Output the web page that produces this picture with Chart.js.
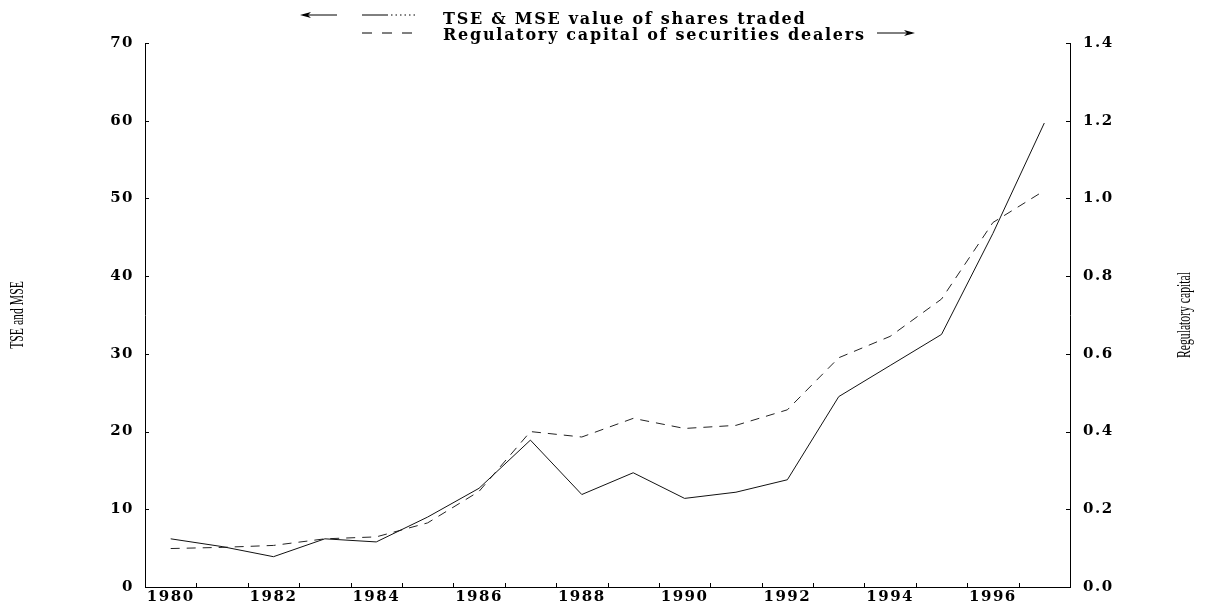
<!DOCTYPE html>
<html>
<head>
<meta charset="utf-8">
<title>TSE & MSE value of shares traded / Regulatory capital</title>
<script src="https://cdn.jsdelivr.net/npm/chart.js@4.4.0/dist/chart.umd.min.js"></script>
<style>
  body { margin: 0; background: #fff; }
  #wrap { position: relative; width: 1211px; height: 609px; }
  #legend { position: absolute; left: 0; top: 0; width: 1211px; height: 43px;
            font-family: "DejaVu Serif"; font-weight: bold; font-size: 16px;
            letter-spacing: 1.75px; color: #000; }
  #legend svg { position: absolute; left: 0; top: 0; }
  #legend .txt { position: absolute; left: 443px; white-space: nowrap; line-height: 16px; }
</style>
</head>
<body>
<div id="wrap">
  <canvas id="chart"></canvas>
  <div id="legend">
    <svg width="1211" height="43">
      <!-- arrow to the left axis -->
      <line x1="303" y1="15" x2="337" y2="15" stroke="#000" stroke-width="1"/>
      <path d="M300,15 L311,12 L308,15 L311,18 Z" fill="#000"/>
      <!-- solid series sample -->
      <line x1="362" y1="15" x2="388" y2="15" stroke="#000" stroke-width="1"/>
      <line x1="391" y1="15" x2="417" y2="15" stroke="#000" stroke-width="1" stroke-dasharray="1.5 3"/>
      <!-- dashed series sample -->
      <line x1="362" y1="33" x2="417" y2="33" stroke="#000" stroke-width="1" stroke-dasharray="10 10"/>
      <!-- arrow to the right axis -->
      <line x1="877" y1="33" x2="912" y2="33" stroke="#000" stroke-width="1"/>
      <path d="M915,33 L904,30 L907,33 L904,36 Z" fill="#000"/>
    </svg>
    <span class="txt" id="lab0" style="top:11px"></span>
    <span class="txt" id="lab1" style="top:27px"></span>
  </div>
</div>
<script>
const years = ['1980', '1981', '1982', '1983', '1984', '1985', '1986', '1987', '1988',
               '1989', '1990', '1991', '1992', '1993', '1994', '1995', '1996', '1997'];
const labelledYears = ['1980', '1982', '1984', '1986', '1988', '1990', '1992', '1994', '1996'];

// TSE & MSE value of shares traded (left axis)
const sharesTraded = [6.2, 5.2, 3.9, 6.2, 5.8, 9.0, 12.7, 18.9, 11.9,
                      14.7, 11.4, 12.2, 13.8, 24.5, 28.5, 32.5, 45.5, 59.7];
// regulatory capital of securities dealers (right axis)
const dealerCapital = [0.099, 0.102, 0.107, 0.124, 0.129, 0.165, 0.246, 0.400, 0.386,
                       0.434, 0.408, 0.416, 0.456, 0.590, 0.645, 0.741, 0.938, 1.020];

const leftTicks = [0, 10, 20, 30, 40, 50, 60, 70];
const rightTicks = [0, 0.2, 0.4, 0.6, 0.8, 1.0, 1.2, 1.4];

const seriesNames = ['TSE & MSE value of shares traded', 'Regulatory capital of securities dealers'];
const axisTitles = ['TSE and MSE', 'Regulatory capital'];

document.getElementById('lab0').textContent = seriesNames[0];
document.getElementById('lab1').textContent = seriesNames[1];

const tickFont = { family: 'DejaVu Serif', size: 15, weight: 'bold' };
const tickSpacing = '1.5px';

// wider spacing for the tick numbers
const spacedTicks = {
  id: 'spacedTicks',
  beforeUpdate(chart) { chart.ctx.letterSpacing = tickSpacing; },
  beforeDraw(chart) { chart.ctx.letterSpacing = tickSpacing; }
};

// short tick marks pointing into the plot
const innerTicks = {
  id: 'innerTicks',
  afterDraw(chart) {
    const ctx = chart.ctx;
    const { left, right, bottom } = chart.chartArea;
    const x = chart.scales.x, y = chart.scales.y, y1 = chart.scales.y1;
    ctx.save();
    ctx.strokeStyle = '#000';
    ctx.lineWidth = 1;
    ctx.beginPath();
    y.ticks.forEach(t => {
      const py = Math.round(y.getPixelForValue(t.value)) + 0.5;
      ctx.moveTo(left, py); ctx.lineTo(left + 4, py);
    });
    y1.ticks.forEach(t => {
      const py = Math.round(y1.getPixelForValue(t.value)) + 0.5;
      ctx.moveTo(right - 4, py); ctx.lineTo(right, py);
    });
    for (let i = 0; i < years.length - 1; i++) {
      const px = Math.round(x.getPixelForValue(i + 0.5)) + 0.5;
      ctx.moveTo(px, bottom); ctx.lineTo(px, bottom - 4);
    }
    ctx.stroke();
    ctx.restore();
  }
};

// narrow rotated axis titles at both sides
const sideTitles = {
  id: 'sideTitles',
  afterDraw(chart) {
    const ctx = chart.ctx;
    const midY = (chart.chartArea.top + chart.chartArea.bottom) / 2;
    ctx.save();
    ctx.letterSpacing = '0px';
    ctx.fillStyle = '#000';
    ctx.font = '18px "Liberation Serif"';
    ctx.textAlign = 'center';
    ctx.textBaseline = 'middle';
    [[18, axisTitles[0]], [1185, axisTitles[1]]].forEach(([cx, text]) => {
      ctx.save();
      ctx.translate(cx, midY);
      ctx.rotate(-Math.PI / 2);
      ctx.scale(0.65, 1);
      ctx.fillText(text, 0, 0);
      ctx.restore();
    });
    ctx.restore();
  }
};

new Chart(document.getElementById('chart'), {
  type: 'line',
  data: {
    labels: years,
    datasets: [{
      label: seriesNames[0],
      data: sharesTraded,
      yAxisID: 'y',
      borderColor: '#111',
      borderWidth: 1,
      pointRadius: 0,
      tension: 0,
      fill: false
    }, {
      label: seriesNames[1],
      data: dealerCapital,
      yAxisID: 'y1',
      borderColor: '#222',
      borderWidth: 1,
      borderDash: [9, 7],
      pointRadius: 0,
      tension: 0,
      fill: false
    }]
  },
  options: {
    responsive: true,
    maintainAspectRatio: false,
    animation: false,
    layout: { padding: { top: 43, left: 0, right: 0, bottom: 0 } },
    plugins: { legend: { display: false }, tooltip: { enabled: false } },
    scales: {
      x: {
        type: 'category',
        offset: true,
        grid: { display: false, drawTicks: false },
        border: { display: true, color: '#000', width: 1 },
        ticks: {
          autoSkip: false, maxRotation: 0, padding: 1,
          font: tickFont, color: '#000',
          callback: function (v) {
            const yr = this.getLabelForValue(v);
            return labelledYears.includes(yr) ? yr : '';
          }
        },
        afterFit: s => { s.height = 14; }
      },
      y: {
        position: 'left',
        min: 0, max: 70,
        grid: { display: false, drawTicks: false },
        border: { display: true, color: '#000', width: 1 },
        ticks: { padding: 11, font: tickFont, color: '#000' },
        afterBuildTicks: s => { s.ticks = leftTicks.map(v => ({ value: v })); },
        afterFit: s => { s.width = 145; }
      },
      y1: {
        position: 'right',
        min: 0, max: 1.4,
        grid: { display: false, drawTicks: false },
        border: { display: true, color: '#000', width: 1 },
        ticks: { padding: 13, font: tickFont, color: '#000', callback: v => v.toFixed(1) },
        afterBuildTicks: s => { s.ticks = rightTicks.map(v => ({ value: v })); },
        afterFit: s => { s.width = 141; }
      }
    }
  },
  plugins: [spacedTicks, innerTicks, sideTitles]
});
</script>
</body>
</html>
